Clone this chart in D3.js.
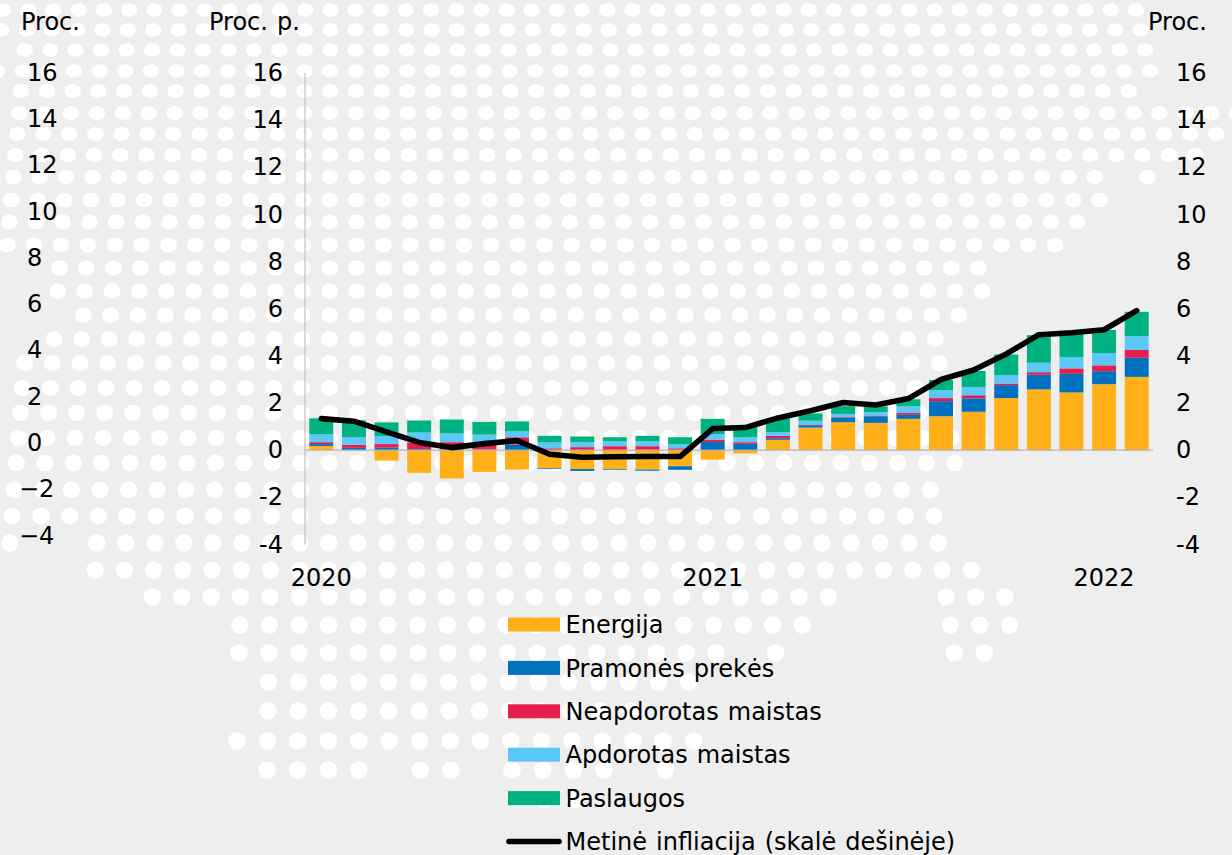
<!DOCTYPE html>
<html lang="lt">
<head>
<meta charset="utf-8">
<script src="https://cdn.jsdelivr.net/npm/d3@7"></script>
<style>
html,body{margin:0;padding:0;background:#eeeeee;overflow:hidden}
svg{display:block}
text{font-family:"DejaVu Sans",Verdana,sans-serif;fill:#000;word-spacing:1.4px}
</style>
</head>
<body>
<svg id="c" width="1232" height="855"></svg>
<script>
// ---- chart data ----
const months = d3.range(26).map(i => new Date(2020, i, 1));
const energija   = [0.18,0,-0.44,-0.96,-1.2,-0.92,-0.82,-0.76,-0.8,-0.8,-0.82,-0.68,-0.4,-0.14,0.44,0.96,1.19,1.16,1.33,1.44,1.63,2.21,2.58,2.45,2.8,3.11];
const pramones   = [0.08,0.1,0.11,0.05,0.03,0.03,0.24,-0.03,-0.08,-0.03,-0.05,-0.15,0.35,0.27,0.07,0.1,0.18,0.28,0.17,0.64,0.57,0.55,0.62,0.79,0.55,0.81];
const neapdorotas= [0.08,0.13,0.15,0.28,0.31,0.23,0.31,0.08,0.13,0.17,0.17,0.08,0.1,0.07,0.1,0.03,0.03,0.03,0.08,0.13,0.13,0.07,0.11,0.23,0.25,0.33];
const apdorotas  = [0.33,0.33,0.34,0.42,0.37,0.4,0.25,0.25,0.21,0.21,0.21,0.17,0.23,0.21,0.16,0.16,0.14,0.14,0.28,0.33,0.34,0.35,0.4,0.48,0.52,0.59];
const paslaugos  = [0.68,0.71,0.58,0.51,0.59,0.54,0.42,0.28,0.24,0.17,0.23,0.3,0.65,0.51,0.58,0.31,0.33,0.25,0.3,0.44,0.69,0.88,1.17,1.0,0.98,1.03];
const infliacija = [1.34,1.23,0.78,0.33,0.11,0.28,0.41,-0.17,-0.3,-0.28,-0.27,-0.27,0.92,0.96,1.37,1.67,2.02,1.92,2.19,3.0,3.4,4.08,4.9,4.98,5.11,5.92];
const seriesNames = ["Energija","Pramonės prekės","Neapdorotas maistas","Apdorotas maistas","Paslaugos"];
const lineName = "Metinė infliacija (skalė dešinėje)";
const seriesColors = ["#ffb019","#0071bf","#e61e4b","#5bc8f7","#00b281"];
const axisTicks = [16,14,12,10,8,6,4,2,0,-2,-4];
const yearLabels = [[0,"2020"],[12,"2021"],[24,"2022"]];

// ---- background dot map: [row y, column spans] ----
const dotRows = [
 [10,[[-17,28]]],[30,[[-17,28]]],[50,[[-16,28]]],[71,[[-17,28]]],[91,[[-16,27]]],
 [113,[[-16,31]]],[134,[[-16,30]]],[155,[[-16,29]]],[177,[[-16,25],[27,27]]],[200,[[-16,25]]],
 [222,[[-16,24]]],[245,[[-16,23]]],[268,[[-14,20]]],[291,[[-14,20]]],[315,[[-13,19]]],
 [339,[[-14,18]]],[363,[[-15,18]]],[388,[[-15,18]]],[413,[[-15,18]]],[438,[[-15,19]]],
 [463,[[-15,18]]],[490,[[-15,17]]],[516,[[-15,17]]],[543,[[-15,-15],[-12,17]]],[570,[[-12,18]]],
 [597,[[-10,13],[17,19]]],[625,[[-7,12],[17,19]]],[653,[[-7,9],[11,11],[17,18]]],
 [682,[[-6,8]]],[711,[[-6,6]]],[741,[[-7,8]]],[770,[[-6,-3],[-1,0],[2,5],[7,7]]],[800,[[3,4]]]
];

const svg = d3.select("#c");
const W = 1232, H = 855;
svg.append("rect").attr("width",W).attr("height",H).attr("fill","#eeeeee");

// background dots
const dots = [];
dotRows.forEach(([y,spans]) => spans.forEach(([a,b]) => d3.range(a,b+1).forEach(k => {
  const s = 25.1 + 0.0072*y, x0 = 430.8 + 0.026*y;
  dots.push({x:x0+k*s, y, rx:8.2+0.0008*y, ry:Math.min(8.8,6.6+0.0038*y)});
})));
svg.append("g").selectAll("ellipse").data(dots).join("ellipse")
  .attr("cx",d=>d.x).attr("cy",d=>d.y).attr("rx",d=>d.rx).attr("ry",d=>d.ry).attr("fill","#ffffff");

// scales
const x = d3.scaleBand().domain(d3.range(months.length)).range([305,1153]).paddingInner(0.265).paddingOuter(0.1325);
const y = d3.scaleLinear().domain([-4,16]).range([544.5,73]);
const yLeft = d3.scaleLinear().domain([-4,16]).range([535,72]);

// stacked bars
const rows = months.map((m,i)=>({i,a:energija[i],b:pramones[i],c:neapdorotas[i],d:apdorotas[i],e:paslaugos[i]}));
const stack = d3.stack().keys(["a","b","c","d","e"]).offset(d3.stackOffsetDiverging);
svg.append("g").selectAll("g").data(stack(rows)).join("g")
  .attr("fill",(d,i)=>seriesColors[i])
  .selectAll("rect").data(d=>d).join("rect")
  .attr("x",d=>x(d.data.i)).attr("width",x.bandwidth())
  .attr("y",d=>y(Math.max(d[0],d[1]))).attr("height",d=>Math.abs(y(d[0])-y(d[1])));

// axis lines
const axisColor = "#b5b5b5";
svg.append("line").attr("x1",305).attr("x2",305).attr("y1",y(16)).attr("y2",y(-4)).attr("stroke",axisColor).attr("stroke-width",1);
svg.append("line").attr("x1",305).attr("x2",1153).attr("y1",y(0)).attr("y2",y(0)).attr("stroke",axisColor).attr("stroke-width",1.2);

// inflation line
const line = d3.line().x((d,i)=>x(i)+x.bandwidth()/2).y(d=>y(d)).curve(d3.curveLinear);
svg.append("path").datum(infliacija).attr("d",line).attr("fill","none").attr("stroke","#000")
  .attr("stroke-width",5.6).attr("stroke-linecap","round").attr("stroke-linejoin","round");

// tick labels
const FS = 24;
const label = (g,xp,yp,t,anchor)=>g.append("text").attr("x",xp).attr("y",yp).attr("dy","0.36em")
  .attr("text-anchor",anchor||"start").attr("font-size",FS).text(t);
const gT = svg.append("g");
axisTicks.forEach(t=>{
  label(gT, t<0?19:27, yLeft(t), t<0?"\u2212"+(-t):String(t));
  label(gT, 283, y(t)-0.5, String(t), "end");
  label(gT, 1176, y(t)-0.5, String(t));
});
label(gT,21,21,"Proc.");
label(gT,209,21,"Proc. p.");
label(gT,1148,21,"Proc.");
yearLabels.forEach(([i,t])=>label(gT,x(i)+x.bandwidth()/2,577,t,"middle"));

// legend
const legY = d3.scalePoint().domain(d3.range(6)).range([624.5,841.5]);
const gL = svg.append("g");
seriesNames.forEach((n,i)=>{
  gL.append("rect").attr("x",508).attr("y",legY(i)-7).attr("width",52).attr("height",14).attr("fill",seriesColors[i]);
  label(gL,565.5,legY(i),n);
});
gL.append("line").attr("x1",509).attr("x2",559).attr("y1",legY(5)).attr("y2",legY(5)).attr("stroke","#000")
  .attr("stroke-width",5.6).attr("stroke-linecap","round");
label(gL,565.5,legY(5),lineName);
</script>
</body>
</html>
